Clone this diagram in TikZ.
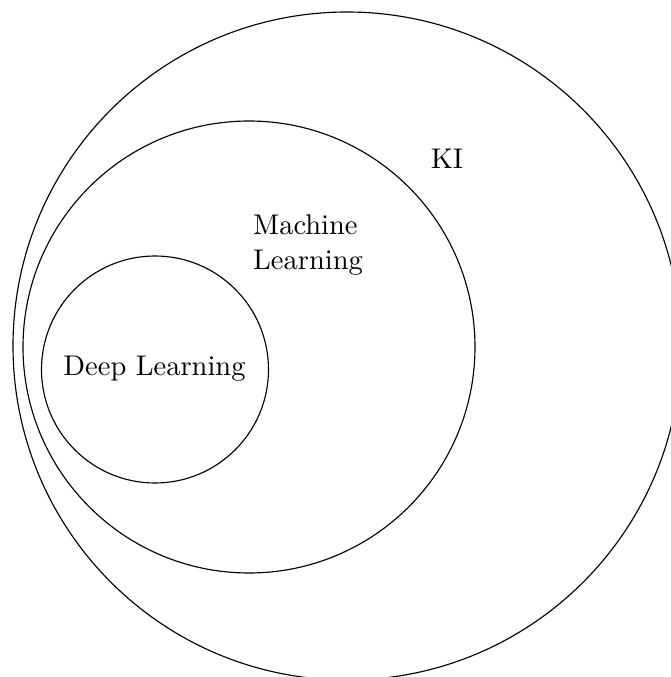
\documentclass[tikz,border=0pt]{standalone}
\begin{document}
\begin{tikzpicture}[x=0.351pt,y=0.351pt]
		\useasboundingbox[clip] (0,0) rectangle (671,677);
		\draw (347,331) circle (334);
		\draw (249,330) circle (226);
		\draw (155,307.5) circle (113.5);
		\node (ki) at (447,518) {KI};
		\node[align=left] (ml) at (308,432) {Machine\\Learning};
		\node (dl) at (154.5,308) {Deep Learning};
		\end{tikzpicture}
\end{document}
